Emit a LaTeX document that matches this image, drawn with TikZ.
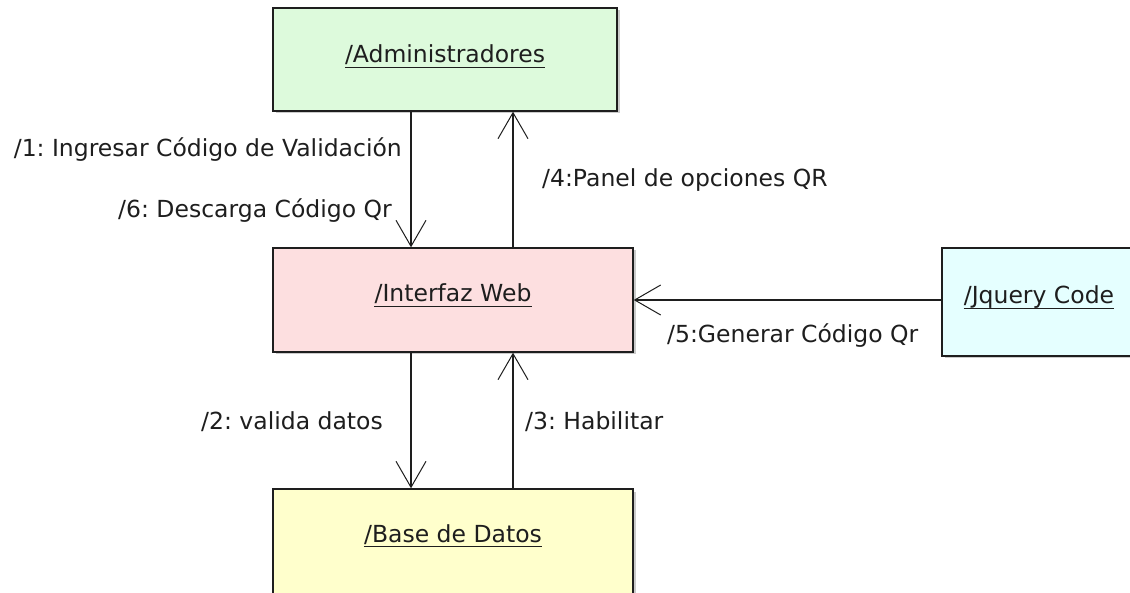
\documentclass[tikz,border=0pt]{standalone}
\usepackage{fontspec}
\setmainfont{DejaVu Sans}
\usetikzlibrary{arrows.meta,shadows}
\definecolor{admfill}{RGB}{221,250,220}
\definecolor{webfill}{RGB}{253,223,224}
\definecolor{dbfill}{RGB}{255,255,204}
\definecolor{jqfill}{RGB}{229,255,255}
\definecolor{ink}{RGB}{30,30,30}
\frenchspacing
\tikzset{
  box/.style={draw=ink, line width=1.4pt, rectangle, inner sep=0pt,
    drop shadow={shadow xshift=2.5pt, shadow yshift=-2.5pt, fill=black!40, opacity=0.5}},
  title/.style={inner sep=0pt, text=ink, anchor=base, font=\fontsize{23.5}{28}\selectfont},
  lbl/.style={inner sep=0pt, text=ink, font=\fontsize{23.5}{28}\selectfont},
  arr/.style={draw=ink, line width=1.2pt, -{Straight Barb[length=26pt,width=30pt,line width=1pt]}},
  uline/.style={draw=ink, line width=1.3pt}
}
\begin{document}
\begin{tikzpicture}[x=1pt,y=-1pt]
\useasboundingbox (0,0) rectangle (1130,593);
\fill[white] (0,0) rectangle (1130,593);
% boxes
\node[box, fill=admfill, minimum width=344pt, minimum height=103pt] (adm) at (445,59.5) {};
\node[box, fill=webfill, minimum width=360pt, minimum height=104pt] (web) at (453,300) {};
\node[box, fill=dbfill, minimum width=360pt, minimum height=108pt] (db) at (453,543) {};
\node[box, fill=jqfill, minimum width=204pt, minimum height=108pt] (jq) at (1044,302) {};
% titles
\node[title] (admT) at (445,63) {/Administradores};
\node[title] (webT) at (453,302) {/Interfaz Web};
\node[title] (dbT) at (453,542) {/Base de Datos};
\node[title] (jqT) at (1039,304) {/Jquery Code};
\foreach \t in {admT,webT,dbT,jqT}{
  \draw[uline] ([yshift=-4.5pt]\t.base west) -- ([yshift=-4.5pt]\t.base east);
}
% connector columns
\coordinate (xa) at (411,0);
\coordinate (xb) at (513,0);
\draw[arr] (adm.south -| xa) -- (web.north -| xa);
\draw[arr] (web.north -| xb) -- (adm.south -| xb);
\draw[arr] (web.south -| xa) -- (db.north -| xa);
\draw[arr] (db.north -| xb) -- (web.south -| xb);
\draw[arr] (jq.west |- web.east) -- (web.east);
% labels
\node[lbl, anchor=base east] (l1) at (402,157) {/1: Ingresar Código de Validación};
\node[lbl, anchor=base east] (l6) at (392,218) {/6: Descarga Código Qr};
\node[lbl, anchor=base west] (l4) at (542,187) {/4:Panel de opciones QR};
\node[lbl, anchor=base west] (l5) at (667,343) {/5:Generar Código Qr};
\node[lbl, anchor=base east] (l2) at (383,430) {/2: valida datos};
\node[lbl, anchor=base west] (l3) at (525,430) {/3: Habilitar};
\end{tikzpicture}
\end{document}
